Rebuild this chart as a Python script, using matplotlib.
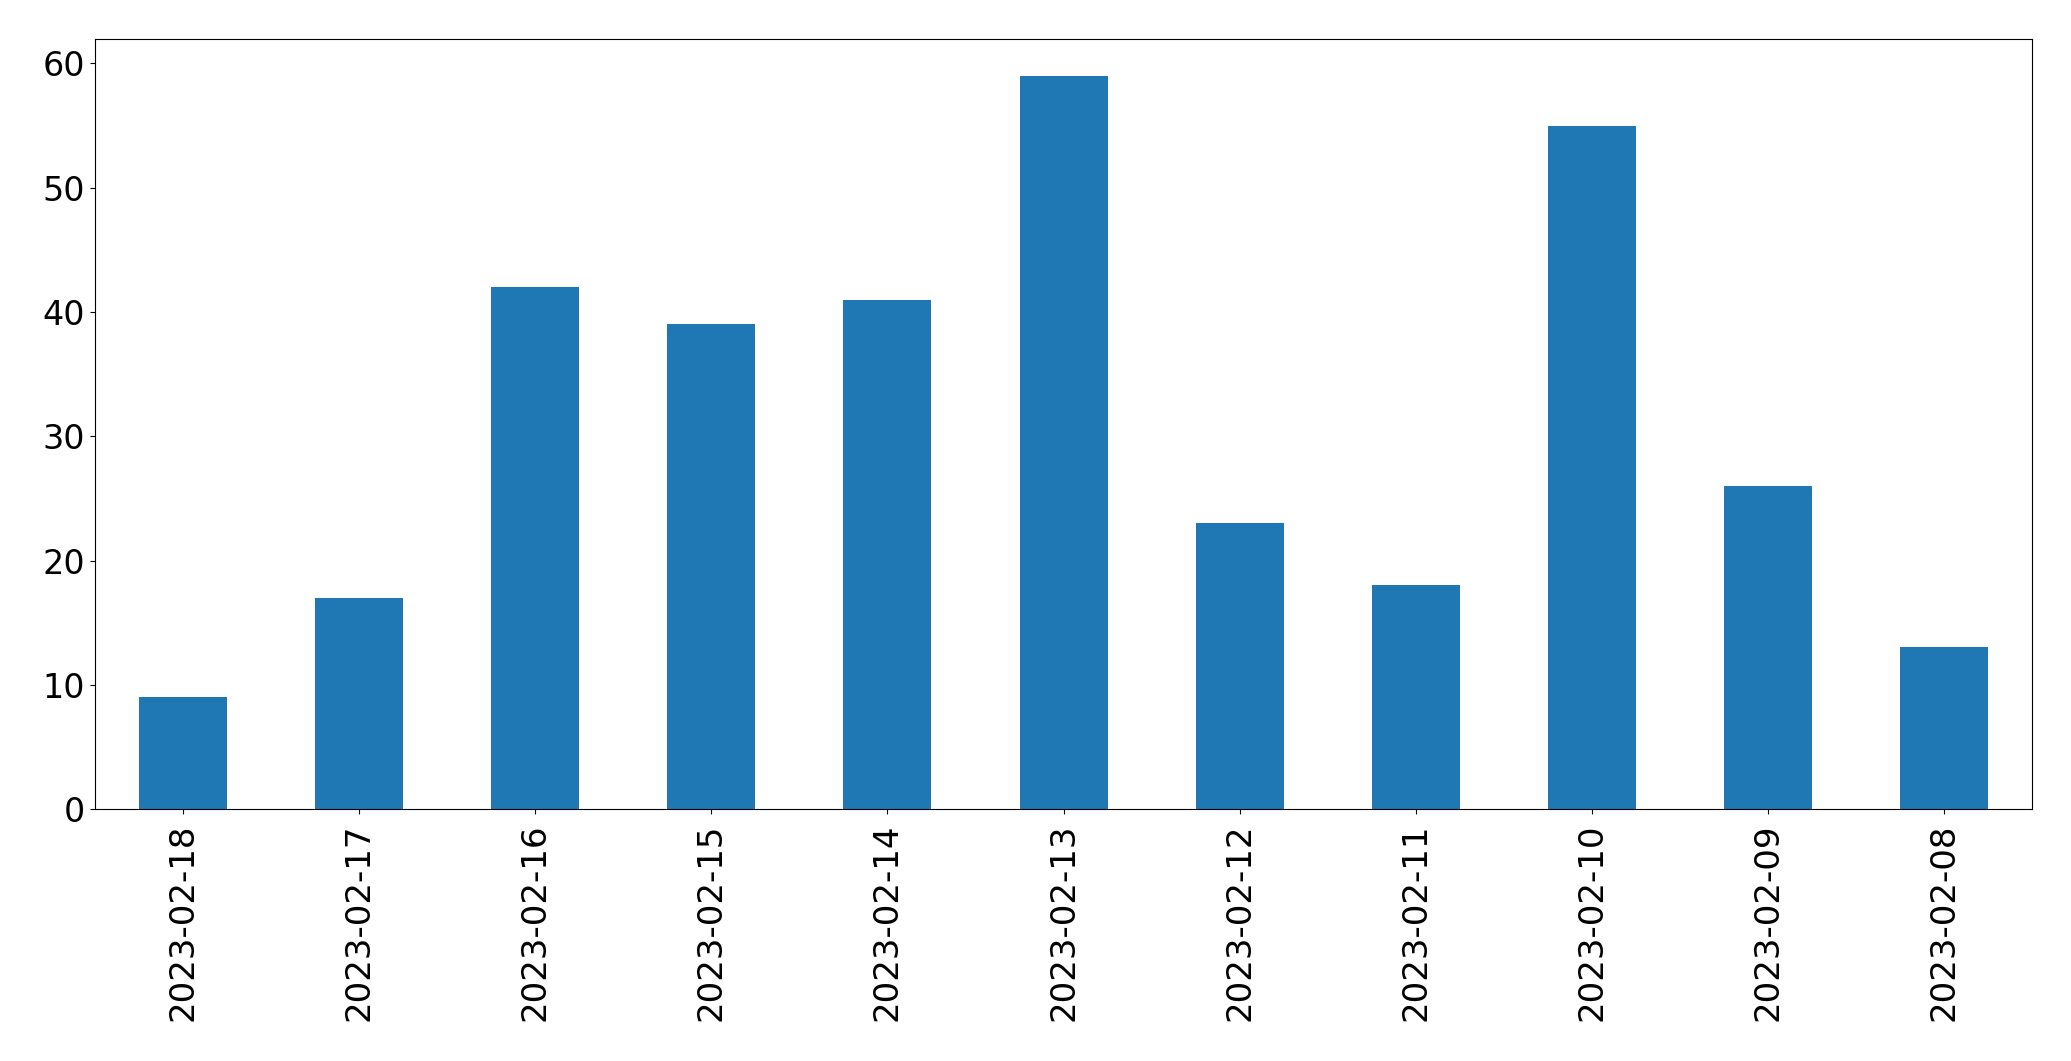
import numpy as np
import matplotlib.pyplot as plt

dates = ['2023-02-18', '2023-02-17', '2023-02-16', '2023-02-15', '2023-02-14',
         '2023-02-13', '2023-02-12', '2023-02-11', '2023-02-10', '2023-02-09',
         '2023-02-08']
counts = [9, 17, 42, 39, 41, 59, 23, 18, 55, 26, 13]

fig = plt.figure(figsize=(20.71, 10.61), dpi=100)
ax = fig.add_axes([0.0459, 0.2375, 0.9353, 0.7255])

x = np.arange(len(dates))
ax.bar(x, counts, width=0.5, color='#1f77b4')
ax.set_xlim(-0.5, len(dates) - 0.5)
ax.set_xticks(x)
ax.set_xticklabels(dates, rotation=90)
ax.tick_params(axis='y', labelsize=24)
ax.tick_params(axis='x', labelsize=24.5, pad=7)

fig.savefig('out.png', dpi=100)
